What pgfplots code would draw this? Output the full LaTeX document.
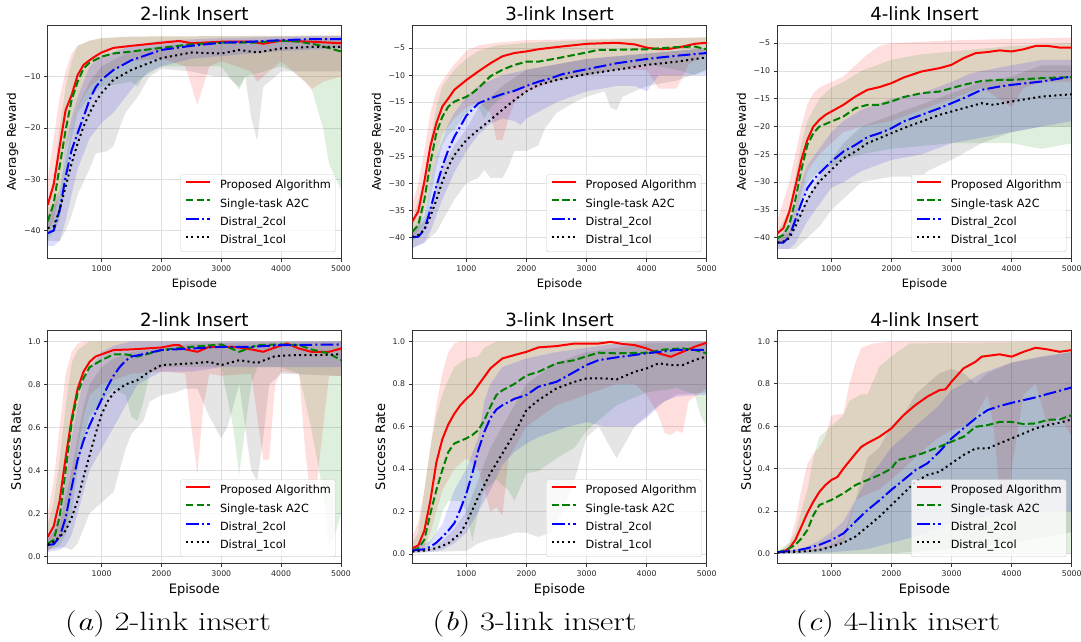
\documentclass[border=0pt]{standalone}
\usepackage{fontspec}
\usepackage{graphicx}
\usepackage{pgfplots}
\pgfplotsset{compat=1.18}
\newfontfamily\dv{DejaVu Sans}
\definecolor{mgreen}{rgb}{0,0.5,0}
\newcommand{\tickf}{\dv\fontsize{7.8}{9}\selectfont}
\newcommand{\legf}{\dv\fontsize{11.3}{13}\selectfont}
\newcommand{\titf}{\dv\fontsize{18.2}{20}\selectfont}
\newcommand{\labtf}{\dv\fontsize{12}{14}\selectfont}
\newcommand{\labxf}{\dv\fontsize{11.5}{14}\selectfont}
\newcommand{\labbf}{\dv\fontsize{13}{15}\selectfont}
\newcommand{\capf}{\fontsize{26.5}{30}\selectfont}
% band polygon: upper edge forwards, lower edge backwards
\newcommand{\band}[3][0.13]{%
  \addplot[fill=#2, fill opacity=#1, draw=none, forget plot] coordinates {#3};}
\pgfplotsset{
  panel/.style={scale only axis, height=232.5pt, xmin=100, xmax=5000,
    xtick={1000,2000,3000,4000,5000}, xticklabels={1000,2000,3000,4000,5000},
    tick align=outside, major tick length=3.5pt, tick pos=left,
    tick style={black!80, line width=0.8pt},
    axis line style={black!80, line width=0.8pt},
    grid=major, major grid style={black!12, line width=0.8pt},
    ticklabel style={font=\tickf, text=black!85},
    xticklabel style={inner sep=0pt, yshift=-3.5pt},
    yticklabel style={inner sep=0pt, xshift=-3.5pt},
    every axis title/.style={font=\titf, at={(axis description cs:0.5,1)}, anchor=base, yshift=4.8pt},
    xlabel style={at={(axis description cs:0.5,0)}, anchor=base, yshift=-29.5pt},
    legend style={at={(rel axis cs:1,0)}, anchor=south east, xshift=-5.3pt, yshift=6.4pt,
      font=\legf, draw=black!20, rounded corners=2pt, fill=white, fill opacity=0.8, text opacity=1,
      inner xsep=4.5pt, inner ysep=5.4pt, row sep=7pt,
      nodes={inner sep=0pt, text height=8.6pt, text depth=2.7pt},
      /tikz/every odd column/.append style={column sep=9pt}},
    legend image code/.code={\draw[##1] (0pt,3.6pt) -- (24pt,3.6pt);},
    legend cell align=left,
  },
  top/.style={panel, ymin=-45.4, ymax=-0.1, ylabel={Average Reward},
    ylabel style={font=\labtf, at={(axis description cs:-0.12,0.5)}, anchor=center},
    xlabel style={font=\labxf}, xlabel={Episode}},
  bot/.style={panel, ymin=-0.0326, ymax=1.0496, ylabel={Success Rate},
    ytick={0,0.2,0.4,0.6,0.8,1.0}, yticklabels={0.0,0.2,0.4,0.6,0.8,1.0},
    ylabel style={font=\labbf, at={(axis description cs:-0.108,0.5)}, anchor=center},
    xlabel style={font=\labbf, yshift=-0.5pt}, xlabel={Episode}},
  lred/.style={color=red, line width=2pt},
  lgreen/.style={color=mgreen, line width=2pt, dash pattern=on 7.4pt off 3.2pt},
  lblue/.style={color=blue, line width=2pt, dash pattern=on 12.8pt off 3.2pt on 2pt off 3.2pt},
  lblack/.style={color=black, line width=2pt, dash pattern=on 2pt off 3.3pt},
}
\begin{document}
\begin{tikzpicture}[x=1pt,y=1pt]
\path[use as bounding box] (0,0) rectangle (1081,641);

% ---------------- Panel 1 ----------------
\begin{axis}[top, at={(47.7pt,382.7pt)}, anchor=south west, width=293.3pt,
  ytick={-40,-30,-20,-10}, yticklabels={−40,−30,−20,−10}, title={2-link Insert}]
\band{red}{(100,-30)(200,-22)(300,-14)(400,-9)(500,-5.5)(600,-4)(800,-3)(1000,-2.5)(1500,-2.2)(5000,-2)
 (5000,-10)(4700,-11)(4500,-12.5)(4400,-11)(4000,-7)(3700,-10)(3600,-11)(3500,-9)(3000,-7)(2800,-8)(2600,-15.5)(2400,-8)(2000,-6.5)(1500,-7)(1000,-10)(800,-12)(600,-16)(500,-20)(400,-24)(300,-32)(200,-38)(100,-40)}
\band{mgreen}{(100,-35)(200,-30)(300,-20)(400,-12)(500,-7)(600,-4)(800,-3)(1000,-2.5)(1500,-2.2)(5000,-2)
 (5000,-32)(4800,-27)(4700,-20)(4500,-12)(4200,-9)(4000,-8)(3400,-10)(3300,-12.5)(3200,-11)(3000,-8)(2500,-8)(2000,-8)(1700,-10)(1600,-12)(1500,-11)(1000,-12)(800,-14)(600,-17)(500,-22)(400,-30)(300,-38)(100,-42)}
\band{blue}{(100,-38)(300,-33)(400,-23)(500,-18)(600,-14)(800,-8)(1000,-6)(1500,-4)(2000,-3)(3000,-2.5)(5000,-2)
 (5000,-4.5)(4000,-5)(3000,-6)(2500,-6.5)(2000,-8)(1800,-9)(1600,-11)(1400,-14)(1200,-17)(1000,-19)(800,-22)(700,-25)(600,-28)(500,-33)(400,-38)(300,-42)(200,-43)(100,-43)}
\band[0.1]{black}{(100,-37)(300,-32)(400,-26)(500,-20)(600,-16)(800,-11)(1000,-8)(1500,-5)(2000,-4)(3000,-3)(5000,-2.5)
 (5000,-9)(4500,-9)(4000,-9)(3700,-12)(3600,-22.5)(3500,-18)(3400,-10)(3300,-12)(3100,-10)(2900,-10)(2500,-9)(2000,-8.5)(1800,-10)(1600,-14)(1500,-15.5)(1400,-17)(1300,-20)(1200,-23.5)(1100,-24.5)(900,-25)(800,-28)(600,-33)(500,-37)(400,-40)(300,-42)(100,-42)}
\addplot[lred] coordinates {(100,-35)(200,-31)(300,-23.6)(400,-16.5)(500,-13.6)(600,-9.7)(700,-7.7)(800,-6.8)(900,-6)(1000,-5.3)(1200,-4.4)(1500,-4)(2000,-3.4)(2300,-3.05)(2500,-3.5)(3000,-3.2)(3500,-3.2)(3700,-3.6)(4000,-3)(4500,-3.2)(5000,-3.5)};
\addlegendentry{Proposed Algorithm}
\addplot[lgreen] coordinates {(100,-38.2)(200,-34.7)(300,-27.5)(400,-20.4)(500,-14.5)(600,-11)(700,-8.4)(800,-7.3)(1000,-6.1)(1200,-5.5)(1500,-5.1)(2000,-4.4)(2500,-3.7)(3000,-3.4)(3500,-3.4)(4000,-3)(4300,-3.2)(4600,-3.8)(5000,-5.1)};
\addlegendentry{Single-task A2C}
\addplot[lblue] coordinates {(100,-40.5)(200,-40)(300,-36)(400,-29.5)(500,-24.3)(600,-21)(700,-17.8)(800,-14.5)(900,-12.1)(1000,-10.6)(1200,-8.7)(1500,-6.8)(2000,-4.8)(2500,-4)(3000,-3.4)(3500,-3.2)(4000,-2.9)(4500,-2.7)(5000,-2.7)};
\addlegendentry{Distral\_2col}
\addplot[lblack] coordinates {(100,-39.5)(200,-39.2)(300,-36)(400,-31.4)(500,-26.9)(600,-23)(700,-19.7)(800,-17.1)(900,-14.9)(1000,-13.2)(1200,-10.6)(1500,-8.7)(2000,-6.4)(2500,-5.3)(3000,-5.5)(3300,-4.8)(3600,-5.3)(4000,-4.5)(4500,-4.2)(5000,-4.2)};
\addlegendentry{Distral\_1col}
\end{axis}

% ---------------- Panel 2 ----------------
\begin{axis}[top, at={(412.3pt,382.7pt)}, anchor=south west, width=294.4pt, ymin=-43.9, ymax=-0.86,
  ytick={-40,-35,-30,-25,-20,-15,-10,-5}, yticklabels={−40,−35,−30,−25,−20,−15,−10,−5},
  ylabel style={at={(axis description cs:-0.118,0.5)}}, title={3-link Insert}]
\band{red}{(100,-34)(200,-30)(300,-24)(400,-17)(500,-13)(600,-11)(700,-9.5)(800,-8)(1000,-5.5)(1200,-4.5)(1500,-4)(2000,-3.5)(5000,-3)
 (5000,-6)(4700,-8)(4500,-12.5)(4200,-12.5)(4000,-9)(3500,-9)(3000,-10)(2500,-11)(2000,-13)(1800,-15)(1700,-18)(1600,-22)(1500,-22)(1400,-17)(1200,-15)(1000,-16)(800,-18)(600,-21)(500,-25)(400,-30)(300,-35)(200,-39)(100,-40)}
\band{mgreen}{(100,-37)(300,-29)(400,-22)(500,-16)(600,-12)(800,-9)(1000,-7)(1200,-5.5)(1500,-4.5)(2000,-4)(3000,-3.5)(5000,-3)
 (5000,-9)(4800,-10)(4500,-9)(4000,-8)(3500,-9)(3000,-10)(2500,-11)(2000,-12)(1600,-14)(1400,-16)(1300,-18)(1200,-16)(1100,-16)(1000,-17)(800,-20)(700,-21)(600,-23)(500,-27)(400,-33)(300,-38)(100,-41)}
\band{blue}{(100,-39)(300,-36)(400,-30)(500,-25)(600,-22)(700,-19)(800,-17)(1000,-14)(1200,-12)(1400,-11)(1600,-10)(2000,-9)(2500,-8)(3000,-7)(4000,-6)(5000,-5)
 (5000,-10)(4500,-10)(4200,-10)(4000,-13)(3800,-12)(3500,-12)(3000,-13)(2500,-15)(2000,-18)(1900,-19.2)(1800,-18.5)(1600,-18)(1400,-19)(1200,-21)(1000,-24)(800,-28)(600,-33)(500,-36)(400,-39)(300,-41)(100,-42)}
\band[0.1]{black}{(100,-39)(300,-37)(400,-34)(500,-30)(600,-27)(800,-23)(1000,-20)(1200,-16)(1400,-14)(1600,-12)(2000,-9)(2500,-8)(3000,-7)(4000,-6)(5000,-5)
 (5000,-9)(4500,-11)(4000,-12)(3600,-14)(3500,-16.5)(3400,-16)(3300,-13)(3000,-14)(2800,-15)(2500,-17)(2300,-20)(2200,-23)(2000,-24)(1800,-24)(1700,-27)(1600,-29)(1400,-29)(1300,-27.5)(1200,-29)(1000,-30)(800,-33)(600,-37)(500,-39)(400,-40)(300,-41)(100,-42)}
\addplot[lred] coordinates {(100,-37.1)(200,-35.2)(300,-29.7)(400,-23.2)(500,-18.9)(600,-15.8)(700,-14.3)(800,-12.7)(1000,-10.9)(1200,-9.3)(1400,-7.8)(1600,-6.5)(1800,-5.9)(2000,-5.6)(2200,-5.2)(2500,-4.8)(3000,-4.2)(3500,-4)(3800,-4.3)(4000,-4.9)(4200,-5.2)(4400,-5.1)(4600,-4.7)(4800,-4.2)(5000,-4)};
\addlegendentry{Proposed Algorithm}
\addplot[lgreen] coordinates {(100,-39)(200,-37.7)(300,-33.1)(400,-26.3)(500,-20.7)(600,-17.7)(700,-15.8)(800,-14.9)(1000,-14)(1100,-13.3)(1200,-12.4)(1400,-10.2)(1600,-9)(1800,-8.1)(2000,-7.5)(2200,-7.5)(2500,-6.9)(3000,-5.8)(3200,-5.3)(3500,-5.3)(4000,-5.2)(4500,-4.8)(4800,-4.7)(5000,-5.2)};
\addlegendentry{Single-task A2C}
\addplot[lblue] coordinates {(100,-40)(200,-39.9)(300,-38.6)(400,-34.9)(500,-30.6)(600,-26.9)(700,-23.8)(800,-21.4)(1000,-17.5)(1200,-15.2)(1400,-14.3)(1600,-13.5)(1800,-12.9)(2000,-12)(2200,-11.2)(2400,-10.6)(2600,-9.8)(3000,-8.9)(3500,-7.8)(4000,-7)(4500,-6.4)(5000,-5.9)};
\addlegendentry{Distral\_2col}
\addplot[lblack] coordinates {(100,-40)(200,-39.6)(300,-38.6)(400,-36.2)(500,-33.1)(600,-29.7)(700,-26.9)(800,-24.8)(1000,-22)(1200,-20.1)(1400,-18.3)(1600,-16.4)(1800,-14.6)(2000,-13)(2200,-11.8)(2500,-10.9)(3000,-9.8)(3500,-9)(4000,-8.1)(4500,-7.5)(5000,-6.7)};
\addlegendentry{Distral\_1col}
\end{axis}

% ---------------- Panel 3 ----------------
\begin{axis}[top, at={(777.3pt,382.7pt)}, anchor=south west, width=294.4pt, ymin=-43.7, ymax=-1.88,
  ytick={-40,-35,-30,-25,-20,-15,-10,-5}, yticklabels={−40,−35,−30,−25,−20,−15,−10,−5},
  ylabel style={at={(axis description cs:-0.118,0.5)}}, title={4-link Insert}]
\band{red}{(100,-37)(300,-30)(400,-25)(500,-20)(600,-16)(700,-14)(800,-13)(1000,-12)(1200,-11)(1400,-9)(1600,-7)(1800,-5.5)(2000,-5)(3000,-4.5)(5000,-4)
 (5000,-12)(4500,-12)(4200,-13)(4000,-16.5)(3500,-13)(3000,-15)(2500,-17)(2000,-19)(1500,-20)(1200,-21)(1000,-23)(800,-25)(600,-28)(500,-32)(400,-37)(300,-40)(100,-41)}
\band{mgreen}{(100,-39)(300,-35)(400,-29)(500,-23)(600,-19)(800,-15)(1000,-13)(1200,-12)(1500,-10)(2000,-8)(2500,-7)(3000,-6.5)(3500,-6)(4000,-5.5)(5000,-5)
 (5000,-23)(4500,-24)(4000,-23)(3000,-23)(2500,-23.5)(2000,-24)(1500,-25)(1200,-26)(1000,-27)(800,-28)(600,-30)(500,-34)(400,-38)(300,-40)(100,-41)}
\band{blue}{(100,-40)(300,-38)(400,-34)(500,-30)(600,-27)(800,-24)(1000,-21)(1200,-19)(1500,-17)(2000,-15)(2500,-14)(3000,-12)(3300,-10.5)(3500,-10)(4000,-9)(4500,-8)(5000,-8)
 (5000,-19)(4500,-20)(4000,-21)(3500,-22)(3000,-23)(2500,-25)(2000,-26)(1500,-28)(1200,-30)(1000,-31)(800,-34)(600,-37)(500,-39)(400,-41)(300,-42)(100,-42)}
\band[0.1]{black}{(100,-40)(300,-39)(400,-37)(500,-35)(600,-33)(800,-29)(1000,-26)(1200,-23)(1500,-20)(2000,-18)(2500,-16)(3000,-14)(3500,-12)(4000,-11)(4500,-9)(5000,-9)
 (5000,-20)(4500,-20)(4000,-21)(3500,-23)(3000,-26)(2600,-28)(2500,-29)(2000,-29)(1500,-30)(1200,-33)(1000,-35)(800,-38)(600,-40)(500,-41)(400,-42)(300,-42)(100,-42)}
\addplot[lred] coordinates {(100,-39.2)(200,-38.3)(300,-35.3)(400,-30.8)(500,-26)(600,-22.4)(700,-20)(800,-18.8)(900,-17.9)(1000,-17.3)(1200,-16.1)(1400,-14.6)(1600,-13.4)(1800,-12.9)(2000,-12.2)(2200,-11.2)(2500,-10.1)(2800,-9.5)(3000,-8.9)(3200,-7.7)(3400,-6.8)(3600,-6.6)(3800,-6.3)(4000,-6.5)(4200,-6.1)(4400,-5.5)(4600,-5.5)(4800,-5.8)(5000,-5.8)};
\addlegendentry{Proposed Algorithm}
\addplot[lgreen] coordinates {(100,-40.1)(200,-39.5)(300,-37.7)(400,-33.2)(500,-27.8)(600,-23.3)(700,-21.2)(800,-20)(1000,-19.1)(1200,-18.2)(1400,-16.7)(1600,-16.1)(1800,-16.1)(2000,-15.5)(2200,-14.7)(2500,-14)(2800,-13.7)(3000,-13.1)(3200,-12.5)(3500,-11.8)(3800,-11.6)(4000,-11.6)(4500,-11.3)(5000,-11.1)};
\addlegendentry{Single-task A2C}
\addplot[lblue] coordinates {(100,-40.9)(200,-40.9)(300,-39.8)(400,-36.8)(500,-33.8)(600,-31.1)(700,-29.6)(800,-28.4)(1000,-26.3)(1200,-24.5)(1400,-23.3)(1600,-21.9)(1800,-21.2)(2000,-20.3)(2200,-19.1)(2500,-17.9)(2800,-16.7)(3000,-15.8)(3200,-14.9)(3500,-13.4)(3800,-12.8)(4000,-12.5)(4500,-11.9)(5000,-11)};
\addlegendentry{Distral\_2col}
\addplot[lblack] coordinates {(100,-40.9)(200,-40.7)(300,-40.1)(400,-38)(500,-35.6)(600,-33.2)(700,-31.4)(800,-29.9)(1000,-27.8)(1200,-25.7)(1400,-24.5)(1600,-23)(1800,-22.1)(2000,-21.2)(2200,-20.3)(2500,-19.1)(2800,-17.9)(3000,-17.3)(3200,-16.7)(3500,-15.8)(3700,-16.1)(4000,-15.5)(4500,-14.6)(5000,-14.2)};
\addlegendentry{Distral\_1col}
\end{axis}

% ---------------- Panel 4 ----------------
\begin{axis}[bot, at={(47.7pt,77.7pt)}, anchor=south west, width=293.3pt, title={2-link Insert}]
\band{red}{(100,0.2)(200,0.35)(300,0.6)(400,0.85)(500,0.95)(600,0.99)(700,1)(5000,1)
 (5000,0.84)(4800,0.84)(4700,0.6)(4600,0.35)(4500,0.25)(4400,0.5)(4300,0.85)(4000,0.86)(3900,0.8)(3800,0.45)(3700,0.45)(3500,0.85)(3000,0.84)(2800,0.85)(2700,0.7)(2600,0.38)(2500,0.6)(2400,0.85)(2000,0.86)(1500,0.85)(1000,0.8)(800,0.75)(700,0.65)(600,0.5)(500,0.3)(400,0.12)(300,0.08)(200,0.05)(100,0.02)}
\band{mgreen}{(100,0.15)(200,0.25)(300,0.45)(400,0.7)(500,0.9)(600,0.96)(700,0.98)(800,1)(5000,1)
 (5000,0.2)(4900,0.1)(4800,0.05)(4700,0.3)(4500,0.6)(4300,0.85)(4000,0.88)(3600,0.88)(3500,0.8)(3400,0.6)(3300,0.38)(3200,0.6)(3000,0.88)(2500,0.88)(2000,0.88)(1800,0.85)(1700,0.72)(1600,0.63)(1500,0.65)(1400,0.75)(1200,0.78)(1000,0.72)(800,0.65)(700,0.55)(600,0.4)(500,0.2)(400,0.1)(300,0.05)(100,0.03)}
\band{blue}{(100,0.08)(300,0.2)(400,0.35)(500,0.55)(600,0.7)(700,0.82)(800,0.88)(1000,0.95)(1200,0.98)(1500,1)(5000,1)
 (5000,0.88)(3000,0.88)(2500,0.86)(2000,0.86)(1600,0.8)(1400,0.7)(1200,0.6)(1000,0.5)(800,0.4)(700,0.3)(600,0.2)(500,0.1)(400,0.05)(300,0.03)(100,0.02)}
\band[0.1]{black}{(100,0.08)(300,0.15)(400,0.28)(500,0.4)(600,0.55)(700,0.7)(800,0.8)(1000,0.88)(1200,0.92)(1500,0.95)(2000,0.97)(2500,0.99)(5000,1)
 (5000,0.84)(4000,0.85)(3800,0.8)(3700,0.55)(3600,0.35)(3500,0.4)(3300,0.8)(3100,0.6)(3000,0.55)(2800,0.65)(2600,0.78)(2400,0.78)(2200,0.76)(2000,0.75)(1800,0.72)(1700,0.63)(1500,0.57)(1400,0.5)(1200,0.3)(1000,0.25)(800,0.2)(700,0.13)(600,0.06)(500,0.03)(400,0.04)(300,0.04)(100,0.03)}
\addplot[lred] coordinates {(100,0.09)(200,0.14)(300,0.26)(400,0.46)(500,0.64)(600,0.78)(700,0.86)(800,0.905)(900,0.93)(1000,0.94)(1200,0.96)(1500,0.963)(2000,0.972)(2200,0.983)(2300,0.983)(2400,0.963)(2600,0.952)(2800,0.975)(3000,0.975)(3200,0.975)(3500,0.963)(3700,0.952)(3900,0.972)(4100,0.99)(4300,0.967)(4500,0.952)(4800,0.952)(5000,0.967)};
\addlegendentry{Proposed Algorithm}
\addplot[lgreen] coordinates {(100,0.06)(200,0.076)(300,0.185)(400,0.4)(500,0.62)(600,0.76)(700,0.83)(800,0.88)(1000,0.913)(1200,0.94)(1400,0.94)(1600,0.93)(1800,0.944)(2000,0.96)(2500,0.975)(3000,0.986)(3300,0.952)(3600,0.983)(4000,0.986)(4300,0.983)(4500,0.963)(4800,0.944)(5000,0.913)};
\addlegendentry{Single-task A2C}
\addplot[lblue] coordinates {(100,0.053)(200,0.056)(300,0.09)(400,0.18)(500,0.32)(600,0.45)(700,0.54)(800,0.61)(900,0.67)(1000,0.73)(1100,0.79)(1200,0.84)(1300,0.88)(1400,0.91)(1500,0.93)(1600,0.935)(2000,0.96)(2500,0.967)(3000,0.975)(3500,0.975)(4000,0.983)(5000,0.986)};
\addlegendentry{Distral\_2col}
\addplot[lblack] coordinates {(100,0.053)(200,0.068)(300,0.09)(400,0.12)(500,0.18)(600,0.26)(700,0.37)(800,0.47)(900,0.57)(1000,0.66)(1100,0.72)(1200,0.76)(1400,0.8)(1600,0.82)(1800,0.86)(2000,0.89)(2500,0.898)(2800,0.905)(3000,0.89)(3300,0.913)(3600,0.9)(3900,0.932)(4200,0.936)(4500,0.936)(5000,0.94)};
\addlegendentry{Distral\_1col}
\end{axis}

% ---------------- Panel 5 ----------------
\begin{axis}[bot, at={(412.3pt,77.7pt)}, anchor=south west, width=294.4pt, ymin=-0.044, ymax=1.05,
  ylabel style={at={(axis description cs:-0.108,0.5)}}, title={3-link Insert}]
\band{red}{(100,0.08)(200,0.15)(300,0.3)(400,0.5)(500,0.7)(600,0.85)(700,0.95)(800,0.99)(900,1)(5000,1)
 (5000,0.78)(4700,0.72)(4600,0.57)(4500,0.58)(4400,0.56)(4300,0.57)(4200,0.65)(4000,0.75)(3800,0.8)(3500,0.8)(3000,0.75)(2500,0.7)(2000,0.6)(1700,0.45)(1600,0.18)(1500,0.22)(1400,0.2)(1300,0.3)(1200,0.4)(1000,0.45)(800,0.4)(700,0.35)(600,0.3)(500,0.2)(400,0.1)(300,0.03)(100,0.01)}
\band{mgreen}{(100,0.05)(200,0.1)(300,0.3)(400,0.5)(500,0.65)(600,0.75)(700,0.82)(800,0.88)(1000,0.92)(1200,0.93)(1300,0.97)(1500,1)(5000,1)
 (5000,0.6)(4900,0.65)(4800,0.75)(4500,0.78)(4000,0.76)(3500,0.7)(3000,0.58)(2800,0.5)(2500,0.45)(2200,0.39)(2000,0.38)(1800,0.25)(1700,0.3)(1500,0.35)(1300,0.3)(1200,0.2)(1100,0.06)(1000,0.2)(900,0.25)(800,0.25)(700,0.25)(600,0.2)(500,0.1)(400,0.05)(300,0.02)(100,0.01)}
\band{blue}{(100,0.03)(400,0.06)(600,0.14)(800,0.3)(1000,0.4)(1200,0.55)(1300,0.72)(1400,0.8)(1500,0.84)(1600,0.88)(1800,0.9)(2000,0.92)(2500,0.95)(3000,0.97)(3500,0.99)(4000,1)(5000,1)
 (5000,0.75)(4500,0.74)(4300,0.72)(4000,0.64)(3800,0.6)(3500,0.6)(3300,0.6)(3000,0.62)(2700,0.6)(2500,0.58)(2200,0.55)(2000,0.52)(1800,0.48)(1600,0.42)(1400,0.3)(1200,0.2)(1000,0.1)(800,0.05)(600,0.02)(400,0.01)(100,0.005)}
\band[0.1]{black}{(100,0.02)(400,0.03)(600,0.06)(800,0.12)(1000,0.2)(1200,0.35)(1400,0.5)(1500,0.55)(1600,0.6)(1800,0.7)(2000,0.8)(2500,0.9)(3000,0.95)(3500,0.97)(4000,0.99)(5000,1)
 (5000,0.76)(4500,0.75)(4200,0.7)(4000,0.65)(3800,0.6)(3600,0.5)(3500,0.45)(3400,0.5)(3200,0.6)(3000,0.55)(2800,0.35)(2600,0.2)(2400,0.1)(2200,0.08)(2000,0.1)(1800,0.1)(1600,0.08)(1400,0.07)(1200,0.05)(1000,0.015)(500,0.01)(100,0.005)}
\addplot[lred] coordinates {(100,0.027)(200,0.04)(300,0.11)(400,0.25)(500,0.43)(600,0.54)(700,0.61)(800,0.66)(900,0.7)(1000,0.73)(1100,0.755)(1200,0.795)(1300,0.834)(1400,0.873)(1500,0.897)(1600,0.92)(1800,0.936)(2000,0.951)(2200,0.972)(2500,0.978)(2800,0.99)(3000,0.99)(3200,0.99)(3400,0.998)(3600,0.988)(3800,0.983)(4000,0.967)(4200,0.944)(4400,0.928)(4600,0.951)(4800,0.975)(5000,0.994)};
\addlegendentry{Proposed Algorithm}
\addplot[lgreen] coordinates {(100,0.016)(200,0.027)(300,0.066)(400,0.19)(500,0.3)(600,0.395)(700,0.48)(800,0.52)(1000,0.544)(1100,0.56)(1200,0.583)(1300,0.63)(1400,0.693)(1500,0.748)(1600,0.77)(1800,0.8)(2000,0.84)(2200,0.857)(2500,0.897)(2800,0.912)(3000,0.93)(3200,0.947)(3500,0.944)(4000,0.947)(4300,0.962)(4600,0.967)(4800,0.96)(5000,0.944)};
\addlegendentry{Single-task A2C}
\addplot[lblue] coordinates {(100,0.016)(300,0.022)(400,0.034)(500,0.053)(600,0.08)(700,0.11)(800,0.145)(900,0.21)(1000,0.285)(1100,0.38)(1200,0.49)(1300,0.575)(1400,0.64)(1500,0.68)(1600,0.7)(1800,0.73)(2000,0.748)(2200,0.787)(2500,0.81)(2800,0.857)(3000,0.889)(3200,0.912)(3500,0.925)(4000,0.944)(4500,0.96)(5000,0.96)};
\addlegendentry{Distral\_2col}
\addplot[lblack] coordinates {(100,0.011)(300,0.016)(500,0.027)(700,0.05)(800,0.074)(900,0.097)(1000,0.147)(1100,0.207)(1200,0.27)(1400,0.38)(1600,0.473)(1800,0.567)(2000,0.677)(2200,0.724)(2500,0.779)(2800,0.81)(3000,0.826)(3300,0.826)(3500,0.821)(3800,0.857)(4000,0.873)(4200,0.897)(4400,0.889)(4600,0.889)(4800,0.912)(5000,0.93)};
\addlegendentry{Distral\_1col}
\end{axis}

% ---------------- Panel 6 ----------------
\begin{axis}[bot, at={(777.3pt,77.7pt)}, anchor=south west, width=294.4pt, ymin=-0.047, ymax=1.05,
  ylabel style={at={(axis description cs:-0.106,0.5)}}, title={4-link Insert}]
\band{red}{(100,0.01)(200,0.02)(300,0.05)(400,0.15)(500,0.3)(600,0.42)(700,0.47)(800,0.5)(900,0.55)(1000,0.65)(1200,0.66)(1300,0.8)(1400,0.9)(1500,0.97)(1700,0.99)(2000,1)(5000,1)
 (5000,0.55)(4800,0.65)(4600,0.6)(4400,0.8)(4200,0.75)(4000,0.4)(3900,0.15)(3800,0.3)(3700,0.6)(3600,0.75)(3400,0.65)(3200,0.6)(3000,0.58)(2800,0.55)(2500,0.48)(2200,0.4)(2000,0.35)(1800,0.3)(1600,0.28)(1400,0.25)(1200,0.05)(800,0.01)(400,0.005)(100,0)}
\band{mgreen}{(100,0.01)(300,0.05)(400,0.1)(500,0.2)(600,0.3)(700,0.45)(800,0.55)(1000,0.6)(1200,0.65)(1300,0.72)(1500,0.75)(1600,0.75)(1800,0.88)(2000,0.93)(2300,0.99)(5000,1)
 (5000,0)(100,0)}
\band{blue}{(100,0.01)(500,0.02)(800,0.06)(1000,0.1)(1200,0.15)(1400,0.25)(1600,0.35)(1800,0.42)(2000,0.5)(2200,0.55)(2400,0.6)(2600,0.65)(2800,0.7)(3000,0.77)(3200,0.8)(3500,0.85)(4000,0.9)(4500,0.93)(5000,0.95)
 (5000,0.2)(4500,0.2)(4000,0.2)(3500,0.17)(3000,0.15)(2800,0.12)(2400,0.08)(2000,0.05)(1600,0.02)(1000,0.005)(100,0)}
\band[0.1]{black}{(100,0.01)(800,0.02)(1000,0.04)(1200,0.08)(1400,0.25)(1600,0.45)(1800,0.5)(2000,0.6)(2200,0.65)(2400,0.75)(2600,0.8)(2800,0.85)(3000,0.87)(3200,0.85)(3400,0.8)(3600,0.85)(4000,0.9)(5000,0.95)
 (5000,0.1)(4000,0.05)(3000,0.02)(2000,0)(100,0)}
\addplot[lred] coordinates {(100,0.005)(200,0.008)(300,0.024)(400,0.063)(500,0.126)(600,0.19)(700,0.244)(800,0.29)(900,0.322)(1000,0.346)(1100,0.36)(1200,0.4)(1400,0.47)(1500,0.503)(1600,0.52)(1700,0.535)(1800,0.55)(2000,0.59)(2200,0.652)(2400,0.7)(2600,0.74)(2800,0.77)(2900,0.774)(3000,0.81)(3200,0.873)(3400,0.904)(3500,0.928)(3800,0.939)(4000,0.928)(4200,0.951)(4400,0.97)(4600,0.962)(4800,0.951)(5000,0.959)};
\addlegendentry{Proposed Algorithm}
\addplot[lgreen] coordinates {(100,0.005)(200,0.012)(300,0.024)(400,0.04)(500,0.07)(600,0.11)(700,0.18)(800,0.228)(1000,0.252)(1200,0.283)(1400,0.322)(1600,0.346)(1800,0.37)(2000,0.4)(2100,0.44)(2300,0.453)(2500,0.47)(2800,0.503)(3000,0.527)(3200,0.55)(3400,0.597)(3600,0.605)(3800,0.62)(4000,0.62)(4200,0.61)(4400,0.613)(4600,0.63)(4800,0.632)(5000,0.652)};
\addlegendentry{Single-task A2C}
\addplot[lblue] coordinates {(100,0.005)(400,0.013)(600,0.024)(800,0.04)(1000,0.063)(1200,0.094)(1400,0.15)(1600,0.204)(1800,0.25)(2000,0.3)(2200,0.346)(2400,0.393)(2600,0.425)(2800,0.48)(3000,0.542)(3200,0.59)(3400,0.637)(3600,0.676)(3800,0.695)(4000,0.71)(4200,0.723)(4400,0.736)(4600,0.752)(4800,0.767)(5000,0.783)};
\addlegendentry{Distral\_2col}
\addplot[lblack] coordinates {(100,0.003)(500,0.008)(800,0.016)(1000,0.031)(1200,0.05)(1400,0.079)(1600,0.126)(1800,0.173)(2000,0.228)(2200,0.283)(2400,0.338)(2600,0.37)(2800,0.385)(3000,0.425)(3200,0.464)(3400,0.495)(3600,0.495)(3800,0.519)(4000,0.542)(4200,0.566)(4400,0.59)(4600,0.605)(4800,0.616)(5000,0.632)};
\addlegendentry{Distral\_1col}
\end{axis}

\node[anchor=base, font=\capf, inner sep=0pt] at (168,10.5) {\scalebox{1.23}[1]{(\textit{a}) 2-link insert}};
\node[anchor=base, font=\capf, inner sep=0pt] at (534.5,10.5) {\scalebox{1.23}[1]{(\textit{b}) 3-link insert}};
\node[anchor=base, font=\capf, inner sep=0pt] at (898,10.5) {\scalebox{1.23}[1]{(\textit{c}) 4-link insert}};
\end{tikzpicture}
\end{document}
